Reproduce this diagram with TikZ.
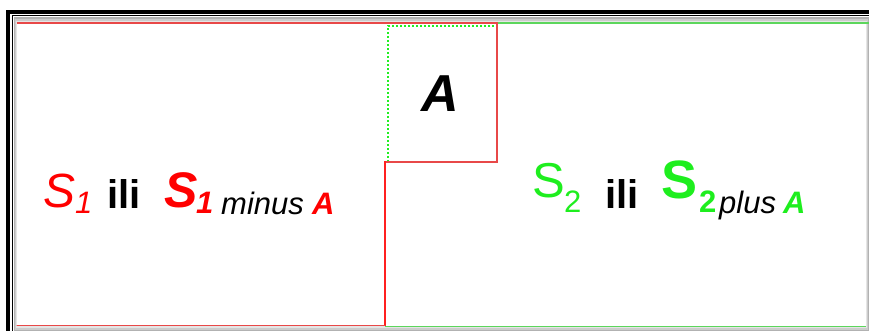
\documentclass[tikz,border=0pt]{standalone}
\usepackage{fontspec}
\setmainfont{Liberation Sans}
\definecolor{redline}{HTML}{E84848}
\definecolor{redbright}{HTML}{FF2020}
\definecolor{redtxt}{HTML}{FF0000}
\definecolor{greentxt}{HTML}{1EEE1E}
\definecolor{greenline}{HTML}{5CD65C}
\definecolor{greendot}{HTML}{22EE22}
\newcommand\fsz[1]{\fontsize{#1}{#1}\selectfont}
\begin{document}
\begin{tikzpicture}[x=1pt,y=-1pt,
  txt/.style={inner sep=0pt, anchor=base west},
  redl/.style={draw=redline, line width=1.2pt},
  greenl/.style={draw=greenline, line width=1.6pt},
  dotl/.style={draw=greendot, line width=2pt, dash pattern=on 2pt off 2pt}]
\useasboundingbox (0,0) rectangle (869,331);
\fill[white] (0,0) rectangle (869,331);
% frame
\fill[black] (6,10) rectangle (869,14);
\fill[black] (6,10) rectangle (10,331);
\draw[black, line width=1pt] (12.5,331) -- (12.5,15.5) -- (869,15.5);
% shadow
\fill[gray!60] (14,17) rectangle (869,331);
\fill[gray!40] (15,19) rectangle (868,330);
\fill[gray!20] (16,21) rectangle (867,328);
\fill[white] (17,23) rectangle (866,326);
% green region
\draw[greenl] (497,23) -- (869,23);
\draw[greenl] (385,326.5) -- (866,326.5);
\draw[dotl] (388,162) -- (388,26) -- (497,26);
% red region
\draw[redl] (16.5,23) -- (497,23) -- (497,162) -- (385,162);
\draw[draw=redbright, line width=1.2pt] (385,161) -- (385,326);
\draw[redl] (385,325.5) -- (16.5,325.5) -- cycle;
% texts
\node[inner sep=0pt, anchor=base] (A) at (440,112) {\fsz{52}\bfseries\itshape A};
\node[txt, text=redtxt] (s1) at (43,207) {\fsz{48}\itshape S};
\node[txt, text=redtxt] (s1sub) at (75,213) {\fsz{31}\itshape 1};
\node[txt] (ili1) at (107,208) {\fsz{40}\bfseries ili};
\node[txt, text=redtxt] (bs1) at (164,207) {\fsz{50}\bfseries\itshape S};
\node[txt, text=redtxt] (bs1sub) at (196,213) {\fsz{31}\bfseries\itshape 1};
\node[txt] (minus) at (221,214) {\fsz{31}\itshape minus};
\node[txt, text=redtxt] (a1) at (312,214) {\fsz{31}\bfseries\itshape A};
\node[txt, text=greentxt] (s2) at (532,197) {\fsz{49}S};
\node[txt, text=greentxt] (s2sub) at (564,212) {\fsz{31}2};
\node[txt] (ili2) at (605,208) {\fsz{40}\bfseries ili};
\node[txt, text=greentxt] (bs2) at (661,198) {\fsz{54}\bfseries S};
\node[txt, text=greentxt] (bs2sub) at (699,212) {\fsz{31}\bfseries 2};
\node[txt] (plus) at (719,213) {\fsz{31}\itshape plus};
\node[txt, text=greentxt] (a2) at (783,213) {\fsz{31}\bfseries\itshape A};
\end{tikzpicture}
\end{document}
